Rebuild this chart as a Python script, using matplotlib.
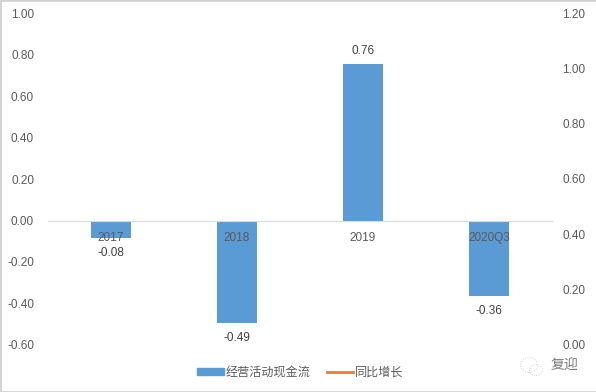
import matplotlib
matplotlib.use("Agg")
import matplotlib.pyplot as plt
from matplotlib.patches import Ellipse, Rectangle
from matplotlib.lines import Line2D
from matplotlib.transforms import ScaledTranslation

plt.rcParams['font.family'] = ['Liberation Sans', 'Noto Sans CJK SC', 'DejaVu Sans']

categories = ['2017', '2018', '2019', '2020Q3']
cash_flow = [-0.08, -0.49, 0.76, -0.36]
cash_labels = ['-0.08', '-0.49', '0.76', '-0.36']
growth = [None, None, None, None]
bar_name = '经营活动现金流'
line_name = '同比增长'
left_ticks = [-0.6, -0.4, -0.2, 0.0, 0.2, 0.4, 0.6, 0.8, 1.0]
right_ticks = [0.0, 0.2, 0.4, 0.6, 0.8, 1.0, 1.2]
watermark = '复迎'

W, H = 596, 392
TXT = '#595959'
BLUE = '#5B9BD5'
ORANGE = '#ED7D31'
fig = plt.figure(figsize=(W / 100, H / 100), dpi=100, facecolor='white')

def px(x, y, w, h):
    return [x / W, 1 - (y + h) / H, w / W, h / H]

ax = fig.add_axes(px(48, 14.5, 504, 331))
ax.set_xlim(-0.5, 3.5)
ax.set_ylim(-0.6, 1.0)
ax.patch.set_visible(False)
x = list(range(len(categories)))
ax.bar(x, cash_flow, width=0.32, color=BLUE, zorder=1)
for xi, v, t in zip(x, cash_flow, cash_labels):
    ax.annotate(t, (xi, v), xytext=(0, 5 if v > 0 else -6.5), textcoords='offset points',
                ha='center', va='bottom' if v > 0 else 'top', fontsize=8.5, color='#404040')
for s in ['top', 'left', 'right']:
    ax.spines[s].set_visible(False)
ax.spines['bottom'].set_position(('data', 0))
ax.spines['bottom'].set_color('#d9d9d9')
ax.spines['bottom'].set_linewidth(0.8)
ax.set_xticks(x, categories)
ax.set_yticks(left_ticks, [f'{v:.2f}' for v in left_ticks])
ax.tick_params(axis='x', length=0, pad=7.5, labelsize=8.5, labelcolor=TXT)
ax.tick_params(axis='y', length=0, pad=10, labelsize=8.5, labelcolor=TXT)

ax2 = ax.twinx()
ax2.set_ylim(0, 1.2)
ax2.patch.set_visible(False)
ax2.plot(x, [float('nan') if g is None else g for g in growth], color=ORANGE, lw=2)
for s in ax2.spines.values():
    s.set_visible(False)
ax2.set_yticks(right_ticks, [f'{v:.2f}' for v in right_ticks])
ax2.tick_params(axis='y', length=0, pad=7.5, labelsize=8.5, labelcolor=TXT)

up = ScaledTranslation(0, 1 / 100, fig.dpi_scale_trans)
for lab in ax.get_yticklabels() + ax2.get_yticklabels():
    lab.set_transform(lab.get_transform() + up)

handles = [Rectangle((0, 0), 1, 1, color=BLUE), Line2D([], [], color=ORANGE, lw=2)]
fig.legend(handles, [bar_name, line_name], loc='center', bbox_to_anchor=(300.5 / W, 1 - 372.5 / H),
           ncol=2, frameon=False, fontsize=8.7, labelcolor=TXT, handlelength=2.2,
           handleheight=0.5, handletextpad=0.17, columnspacing=1.3, borderpad=0, borderaxespad=0)

# page frame (left, top, bottom) and watermark
for xs, ys in [((0, 0), (0, 1)), ((0, 1), (1, 1)), ((0, 1), (0, 0))]:
    fig.add_artist(Line2D(xs, ys, transform=fig.transFigure, color='#d4d4d4', lw=3 if xs == (0, 0) else 2))
fig.add_artist(Ellipse((529 / W, 1 - 365 / H), 17 / W, 15 / H, transform=fig.transFigure, fill=False,
                       ec='#d0d0d0', lw=0.7, ls=':'))
fig.add_artist(Ellipse((536 / W, 1 - 370 / H), 13 / W, 11 / H, transform=fig.transFigure, fill=False,
                       ec='#d0d0d0', lw=0.7, ls=':'))
fig.text(564 / W, 1 - 366 / H, watermark, ha='center', va='center', fontsize=10, color='#777777')

fig.savefig('out.png', dpi=100)
